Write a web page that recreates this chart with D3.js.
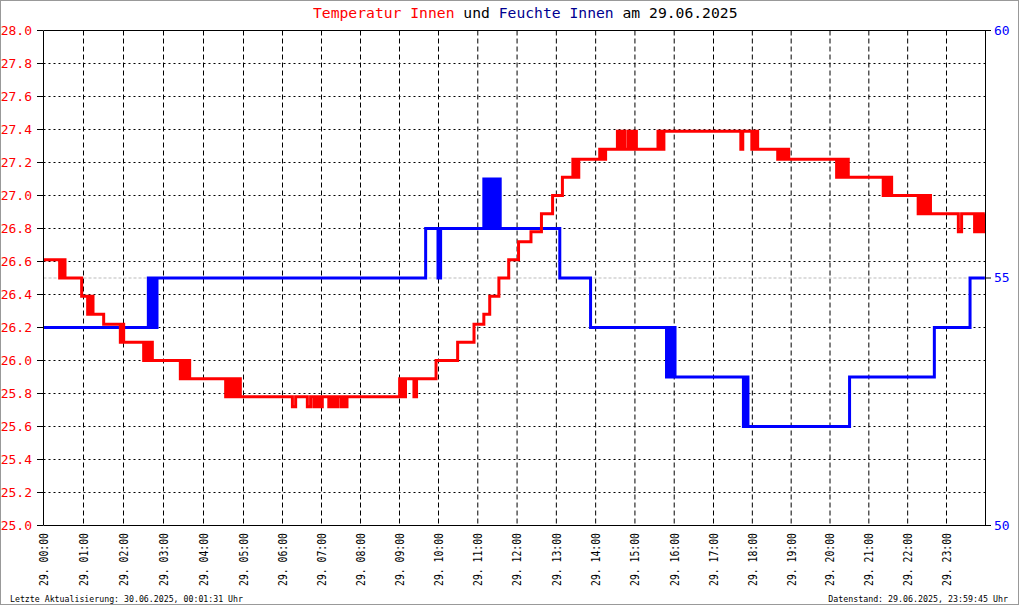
<!DOCTYPE html>
<html>
<head>
<meta charset="utf-8">
<script src="https://cdn.jsdelivr.net/npm/d3@7"></script>
<style>
  body { margin: 0; background: #fff; }
  svg text { font-family: "DejaVu Sans Mono", monospace; }
</style>
</head>
<body>
<svg id="chart" width="1020" height="606"></svg>
<script>
// tick labels
var tempTicks = [25.0, 25.2, 25.4, 25.6, 25.8, 26.0, 26.2, 26.4, 26.6, 26.8, 27.0, 27.2, 27.4, 27.6, 27.8, 28.0];
var humTicks = [50, 55, 60];
var hourTicks = ["00:00","01:00","02:00","03:00","04:00","05:00","06:00","07:00","08:00","09:00","10:00","11:00",
                 "12:00","13:00","14:00","15:00","16:00","17:00","18:00","19:00","20:00","21:00","22:00","23:00"];

// Temperatur Innen (°C), step values [time, value]
var tempSeries = [
  ["00:00",26.61],["00:25",26.50],["00:27",26.61],["00:29",26.50],["00:31",26.61],["00:33",26.50],
  ["00:58",26.39],["01:07",26.28],["01:09",26.39],["01:11",26.28],["01:13",26.39],["01:15",26.28],
  ["01:31",26.22],["01:56",26.11],["01:59",26.22],["02:01",26.11],
  ["02:31",26.00],["02:33",26.11],["02:35",26.00],["02:38",26.11],["02:40",26.00],["02:42",26.11],["02:44",26.00],
  ["03:26",25.89],["03:29",26.00],["03:31",25.89],["03:33",26.00],["03:35",25.89],["03:38",26.00],["03:40",25.89],
  ["04:34",25.78],["04:36",25.89],["04:38",25.78],["04:41",25.89],["04:44",25.78],["04:47",25.89],["04:50",25.78],
  ["04:53",25.89],["04:56",25.78],
  ["06:16",25.72],["06:21",25.78],["06:39",25.72],["06:44",25.78],
  ["06:49",25.72],["06:52",25.78],["06:55",25.72],["06:58",25.78],["07:00",25.72],["07:02",25.78],
  ["07:12",25.72],["07:15",25.78],["07:18",25.72],["07:21",25.78],["07:24",25.72],["07:26",25.78],
  ["07:31",25.72],["07:34",25.78],["07:37",25.72],["07:40",25.78],
  ["09:01",25.89],["09:03",25.78],["09:06",25.89],["09:08",25.78],["09:10",25.89],["09:23",25.78],["09:27",25.89],
  ["09:57",26.00],["10:30",26.11],["10:55",26.22],["11:10",26.28],["11:19",26.39],["11:33",26.50],
  ["11:48",26.61],["12:03",26.72],["12:22",26.78],["12:38",26.89],["12:55",27.00],["13:10",27.11],
  ["13:26",27.22],["13:28",27.11],["13:30",27.22],["13:33",27.11],["13:35",27.22],
  ["14:07",27.28],["14:09",27.22],["14:12",27.28],["14:14",27.22],["14:16",27.28],
  ["14:34",27.39],["14:37",27.28],["14:39",27.39],["14:41",27.28],["14:44",27.39],["14:45",27.28],
  ["14:50",27.39],["14:53",27.28],["14:55",27.39],["14:57",27.28],["15:00",27.39],["15:03",27.28],
  ["15:36",27.39],["15:38",27.28],["15:40",27.39],["15:42",27.28],["15:45",27.39],
  ["17:43",27.28],["17:46",27.39],
  ["18:00",27.28],["18:02",27.39],["18:04",27.28],["18:07",27.39],["18:09",27.28],
  ["18:40",27.22],["18:43",27.28],["18:46",27.22],["18:49",27.28],["18:52",27.22],["18:55",27.28],["18:57",27.22],
  ["20:11",27.11],["20:14",27.22],["20:17",27.11],["20:20",27.22],["20:23",27.11],["20:26",27.22],["20:29",27.11],
  ["21:23",27.00],["21:26",27.11],["21:29",27.00],["21:33",27.11],["21:36",27.00],
  ["22:17",26.89],["22:20",27.00],["22:23",26.89],["22:27",27.00],["22:30",26.89],["22:33",27.00],["22:36",26.89],
  ["23:19",26.78],["23:24",26.89],["23:44",26.78],["23:47",26.89],["23:51",26.78],["23:54",26.89],
  ["23:56",26.78],["23:58",26.89],["23:59:45",26.89]
];

// Feuchte Innen (%), step values [time, value]
var humSeries = [
  ["00:00",54],["02:38",55],["02:41",54],["02:43",55],["02:45",54],["02:47",55],["02:50",54],["02:51",55],
  ["09:41",56],["10:00",55],["10:04",56],
  ["11:10",57],["11:12",56],["11:14",57],["11:16",56],["11:18",57],["11:20",56],["11:22",57],
  ["11:24",56],["11:26",57],["11:28",56],["11:30",57],["11:32",56],["11:34",57],["11:35",56],
  ["13:06",55],["13:53",54],
  ["15:49",53],["15:52",54],["15:55",53],["15:58",54],["16:02",53],
  ["17:47",52],["17:50",53],["17:54",52],
  ["20:31",53],["22:42",54],["23:37",55],["23:59:45",55]
];

var parseMin = d3.timeParse("%Y-%m-%d %H:%M");
var parseSec = d3.timeParse("%Y-%m-%d %H:%M:%S");
function toDate(s){
  return (s.length > 5 ? parseSec : parseMin)("2025-06-29 " + s);
}

var svg = d3.select("#chart");

// outer frame
svg.append("rect")
  .attr("x", 0.5).attr("y", 0.5)
  .attr("width", 1018).attr("height", 604)
  .attr("fill", "#fff").attr("stroke", "#999");

var dayStart = toDate("00:00");
var dayEnd = d3.timeDay.offset(dayStart, 1);

// hour grid of the source is not perfectly even, so use a few knots
var x = d3.scaleTime()
  .domain([dayStart, toDate("05:00"), toDate("10:00"), toDate("17:00"), toDate("23:00"), dayEnd])
  .range([43, 243, 438, 713, 946, 985]);

var yT = d3.scaleLinear().domain([25, 28]).range([525, 30]);
var yH = d3.scaleLinear().domain([50, 60]).range([525, 30]);

var hours = hourTicks.map(toDate);

// horizontal dotted grid
svg.append("g").selectAll("line")
  .data(tempTicks.filter(function(d){ return d > 25 && d < 28; }))
  .enter().append("line")
  .attr("x1", x(dayStart) + 0.5).attr("x2", x(dayEnd) + 0.5)
  .attr("y1", function(d){ return yT(d) + 0.5; })
  .attr("y2", function(d){ return yT(d) + 0.5; })
  .attr("stroke", "#000").attr("stroke-dasharray", "2,3");

// vertical dashed grid
svg.append("g").selectAll("line")
  .data(hours.slice(1))
  .enter().append("line")
  .attr("x1", function(d){ return x(d) + 0.5; })
  .attr("x2", function(d){ return x(d) + 0.5; })
  .attr("y1", yT(28) + 0.5).attr("y2", yT(25) + 0.5)
  .attr("stroke", "#000").attr("stroke-dasharray", "5,3");

// light line for 55 %
svg.append("line")
  .attr("x1", x(dayStart) + 0.5).attr("x2", x(dayEnd) + 0.5)
  .attr("y1", yH(55) + 0.5).attr("y2", yH(55) + 0.5)
  .attr("stroke", "#bbb").attr("stroke-dasharray", "3,2");

var humLine = d3.line()
  .x(function(d){ return x(toDate(d[0])); })
  .y(function(d){ return yH(d[1]) + 0.5; })
  .curve(d3.curveStepAfter);

var tempLine = d3.line()
  .x(function(d){ return x(toDate(d[0])); })
  .y(function(d){ return yT(d[1]) + 0.5; })
  .curve(d3.curveStepAfter);

svg.append("path")
  .attr("d", humLine(humSeries))
  .attr("fill", "none").attr("stroke", "#0000ff").attr("stroke-width", 3);

svg.append("path")
  .attr("d", tempLine(tempSeries))
  .attr("fill", "none").attr("stroke", "#ff0000").attr("stroke-width", 3);

// axes
var leftAxis = svg.append("g")
  .attr("transform", "translate(" + x(dayStart) + ",0)")
  .call(d3.axisLeft(yT).tickValues(tempTicks).tickFormat(d3.format(".1f"))
    .tickSize(6).tickPadding(5).tickSizeOuter(0));

var rightAxis = svg.append("g")
  .attr("transform", "translate(" + x(dayEnd) + ",0)")
  .call(d3.axisRight(yH).tickValues(humTicks).tickSize(6).tickPadding(3).tickSizeOuter(0));

var bottomAxis = svg.append("g")
  .attr("transform", "translate(0," + yT(25) + ")")
  .call(d3.axisBottom(x).tickValues(hours).tickFormat(d3.timeFormat("%d. %H:%M"))
    .tickSize(0).tickSizeOuter(0));

[leftAxis, rightAxis, bottomAxis].forEach(function(g){
  g.attr("font-family", null).attr("font-size", null);
  g.selectAll("path, line").attr("stroke", "#000");
});

leftAxis.selectAll("text").attr("fill", "#ff0000").style("font-size", "13px");
rightAxis.selectAll("text").attr("fill", "#0000ff").style("font-size", "13px");

bottomAxis.selectAll("text")
  .attr("fill", "#000")
  .attr("transform", "rotate(-90)")
  .attr("x", -8).attr("y", 0).attr("dy", "0.35em")
  .style("text-anchor", "end")
  .style("font-size", "12.5px")
  .attr("textLength", 53).attr("lengthAdjust", "spacingAndGlyphs");

// top frame line
svg.append("line")
  .attr("x1", x(dayStart) + 0.5).attr("x2", x(dayEnd) + 0.5)
  .attr("y1", yT(28) + 0.5).attr("y2", yT(28) + 0.5)
  .attr("stroke", "#000");

// title
var title = svg.append("text")
  .attr("x", 313).attr("y", 18)
  .style("font-size", "14.7px");
title.append("tspan").attr("fill", "#ff0000").text("Temperatur Innen");
title.append("tspan").attr("fill", "#000").text(" und ");
title.append("tspan").attr("fill", "#000090").text("Feuchte Innen");
title.append("tspan").attr("fill", "#000").text(" am 29.06.2025");

// footer
svg.append("text")
  .attr("x", 10).attr("y", 602)
  .style("font-size", "8.3px")
  .attr("textLength", 233).attr("lengthAdjust", "spacingAndGlyphs")
  .text("Letzte Aktualisierung: 30.06.2025, 00:01:31 Uhr");

svg.append("text")
  .attr("x", 1008).attr("y", 602)
  .attr("text-anchor", "end")
  .style("font-size", "8.3px")
  .text("Datenstand: 29.06.2025, 23:59:45 Uhr");
</script>
</body>
</html>
